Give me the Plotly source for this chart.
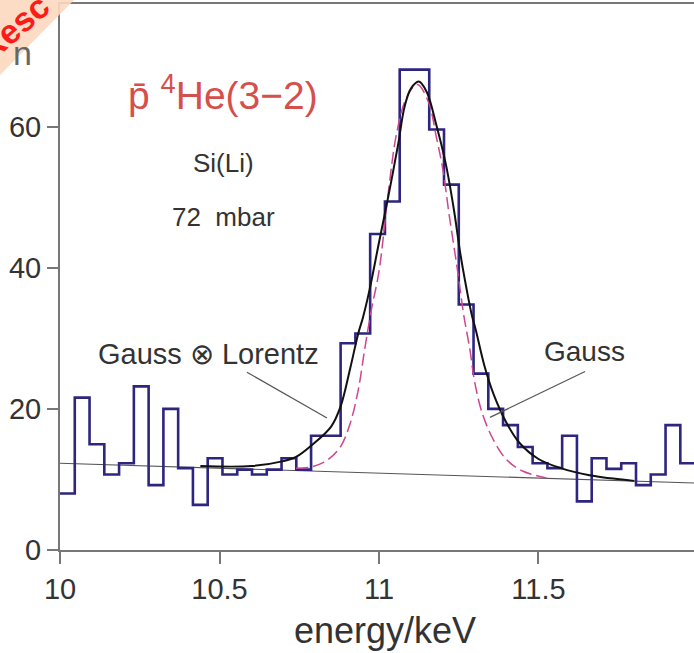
import plotly.graph_objects as go

# ---------------- data ----------------
bin_start = 10.0          # keV, left edge of first channel
bin_width = 0.0463        # keV per channel
counts = [8.0, 21.6, 15.0, 10.7, 12.3, 23.2, 9.2, 20.0, 11.6, 6.4,
          13.0, 10.7, 11.4, 10.7, 11.4, 13.0, 11.4, 16.2, 16.2, 29.3,
          30.7, 44.8, 49.4, 68.1, 68.1, 59.6, 51.8, 34.8, 25.0, 20.0,
          17.7, 14.6, 12.3, 11.6, 16.2, 6.9, 13.0, 11.5, 12.3, 9.2,
          10.7, 17.7, 12.3]

# fitted curves
voigt_e = [10.44, 10.60, 10.70, 10.74, 10.79, 10.85, 10.88, 10.91, 10.935, 10.95,
           10.97, 11.00, 11.03, 11.06, 11.08, 11.10, 11.125, 11.15, 11.18, 11.21,
           11.235, 11.255, 11.275, 11.29, 11.305, 11.33, 11.36, 11.40, 11.44, 11.50,
           11.57, 11.66, 11.80]
voigt_n = [11.9, 11.9, 12.6, 13.2, 14.9, 17.5, 20.4, 25.8, 30.7, 33.0,
           36.8, 43.6, 50.3, 57.5, 62.8, 65.4, 66.4, 64.9, 60.2, 54.6,
           48.2, 42.0, 36.9, 33.5, 30.9, 26.2, 22.0, 18.0, 15.2, 12.9,
           11.6, 10.6, 9.8]

gauss_e = [10.74, 10.79, 10.84, 10.88, 10.91, 10.935, 10.955, 10.975, 11.00, 11.03,
           11.055, 11.085, 11.12, 11.155, 11.18, 11.20, 11.22, 11.245, 11.265, 11.285,
           11.30, 11.325, 11.36, 11.40, 11.45, 11.525]
gauss_n = [11.6, 11.8, 12.8, 14.7, 18.0, 22.7, 28.4, 33.8, 39.5, 51.0,
           59.0, 64.0, 66.0, 63.5, 58.5, 54.0, 47.5, 40.0, 33.5, 28.4,
           23.8, 19.2, 15.5, 12.8, 11.2, 10.2]

bg_e = [10.0, 11.9875]
bg_n = [12.3, 9.5]

x_ticks = [10, 10.5, 11, 11.5]
x_ticktext = ["10", "10.5", "11", "11.5"]
y_ticks = [0, 20, 40, 60]

# ---------------- figure ----------------
FONT = "Liberation Sans, Arial"
TXT = "#333333"

edges = [bin_start + i * bin_width for i in range(len(counts) + 1)]
step_x = edges
step_y = counts + [counts[-1]]

fig = go.Figure()
fig.add_trace(go.Scatter(x=bg_e, y=bg_n, mode="lines",
                         line=dict(color="#555555", width=1.2), hoverinfo="skip"))
fig.add_trace(go.Scatter(x=step_x, y=step_y, mode="lines", line_shape="hv",
                         line=dict(color="#2d2580", width=2.6), hoverinfo="skip"))
fig.add_trace(go.Scatter(x=gauss_e, y=gauss_n, mode="lines", line_shape="spline",
                         line=dict(color="#d0458f", width=1.5, dash="12px,5px"),
                         hoverinfo="skip"))
fig.add_trace(go.Scatter(x=voigt_e, y=voigt_n, mode="lines", line_shape="spline",
                         line=dict(color="#111111", width=2.0), hoverinfo="skip"))

# leader lines
fig.add_shape(type="line", x0=10.586, y0=25.2, x1=10.837, y1=18.7,
              line=dict(color="#555555", width=1.2))
fig.add_shape(type="line", x0=11.646, y0=25.3, x1=11.348, y1=18.8,
              line=dict(color="#555555", width=1.2))

# corner stamp
fig.add_shape(type="path", xref="paper", yref="paper",
              path="M -0.0946 1.0073 L 0.0221 1.0073 L -0.0946 0.8700 Z",
              fillcolor="#fdd8bf", opacity=0.9, line=dict(width=0), layer="above")

ann = [
    dict(x=10.511, y=64.8, text="p\u0304 <sup>4</sup>He(3\u22122)",
         font=dict(size=39, color="#d5504c", family=FONT)),
    dict(x=10.511, y=54.9, text="Si(Li)", font=dict(size=26, color=TXT, family=FONT)),
    dict(x=10.511, y=47.2, text="72\u00a0\u00a0mbar", font=dict(size=26, color=TXT, family=FONT)),
    dict(x=10.464, y=27.8, text="Gauss \u2297 Lorentz", font=dict(size=29, color=TXT, family=FONT)),
    dict(x=11.643, y=28.1, text="Gauss", font=dict(size=28, color=TXT, family=FONT)),
]
for a in ann:
    fig.add_annotation(xref="x", yref="y", showarrow=False, xanchor="center",
                       yanchor="middle", **a)

fig.add_annotation(xref="paper", yref="paper", x=(22 - 60) / 634, y=(550 - 53) / 546,
                   xanchor="center", yanchor="middle",
                   text="n", showarrow=False, font=dict(size=34, color="#666666", family=FONT))
fig.add_annotation(xref="paper", yref="paper", x=(385 - 60) / 634, y=(550 - 630) / 546,
                   xanchor="center", yanchor="middle",
                   text="energy/keV", showarrow=False,
                   font=dict(size=36, color=TXT, family=FONT))
fig.add_annotation(xref="paper", yref="paper", x=(13 - 60) / 634, y=(550 - 28) / 546,
                   xanchor="center", yanchor="middle",
                   text="<b>Resc</b>", showarrow=False, textangle=-41,
                   font=dict(size=34, color="#ff1a1a", family="Liberation Sans, Arial"))

fig.update_layout(
    width=694, height=653,
    margin=dict(l=60, r=0, t=4, b=103),
    paper_bgcolor="white", plot_bgcolor="white",
    showlegend=False,
    font=dict(family=FONT, color=TXT),
)
fig.update_xaxes(range=[10, 11.9875], tickvals=x_ticks, ticktext=x_ticktext,
                 ticks="outside", ticklen=12, tickwidth=1.5, tickcolor="#777777",
                 showline=True, linecolor="#777777", linewidth=2, mirror=True,
                 showgrid=False, zeroline=False,
                 tickfont=dict(size=29, color=TXT, family=FONT))
fig.update_yaxes(range=[0, 77.4], tickvals=y_ticks,
                 ticks="outside", ticklen=11, tickwidth=1.5, tickcolor="#777777",
                 showline=True, linecolor="#777777", linewidth=2,
                 showgrid=False, zeroline=False,
                 tickfont=dict(size=29, color=TXT, family=FONT))

fig.write_html("out.html")
